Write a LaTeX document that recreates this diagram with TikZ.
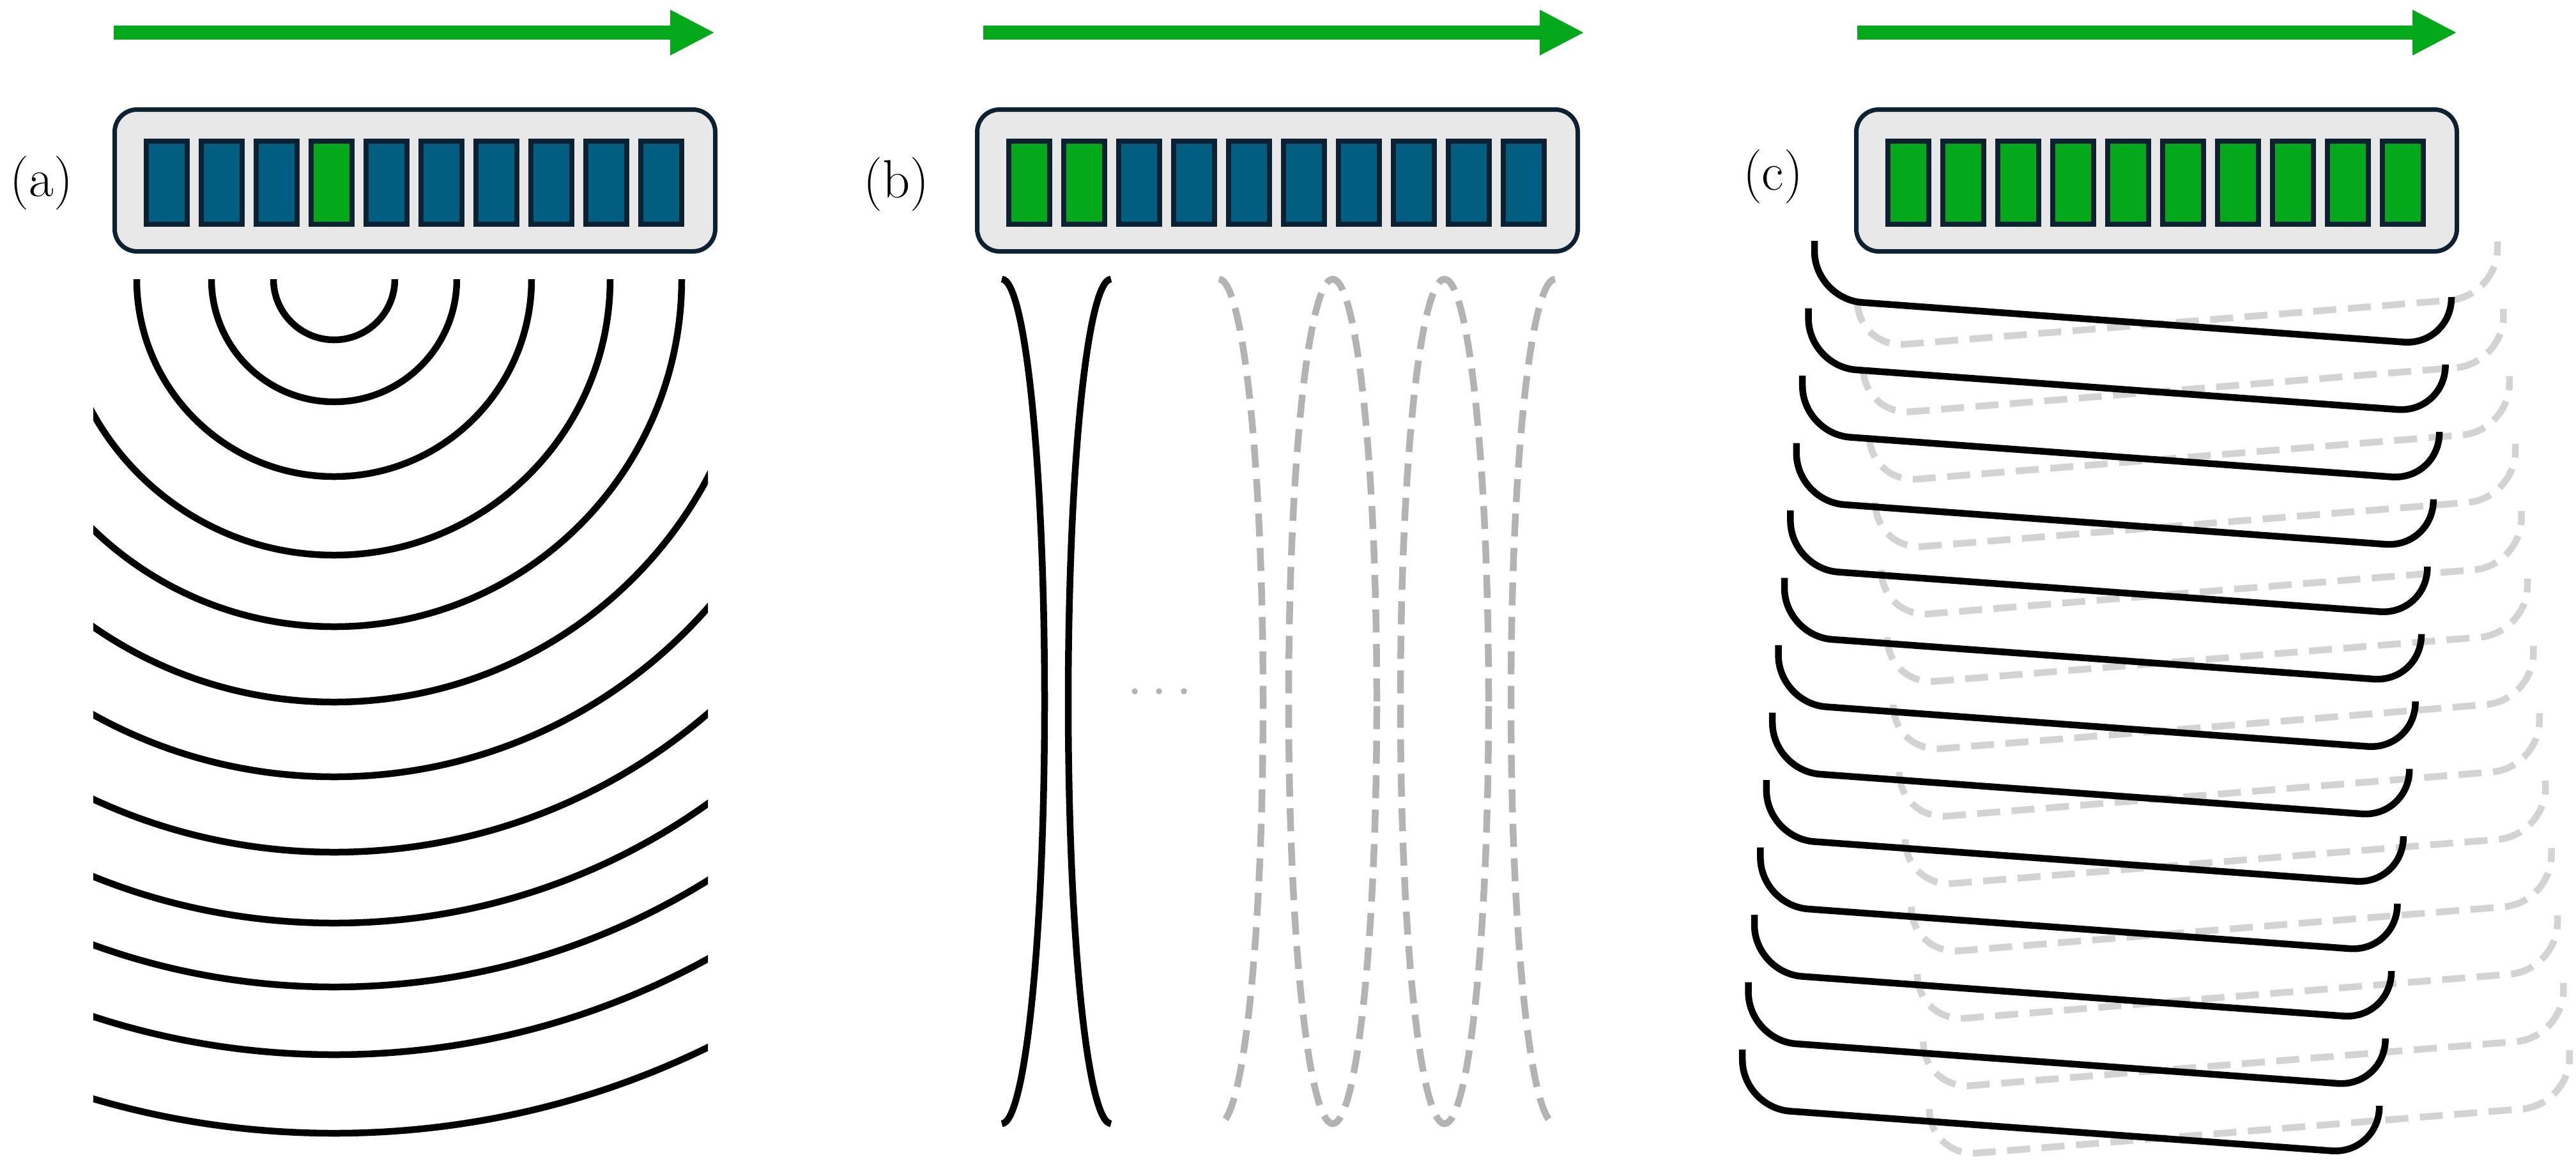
\documentclass[tikz,border=0pt]{standalone}
\usetikzlibrary{arrows.meta, positioning}
\definecolor{sweepgreen}{HTML}{03A81B}
\definecolor{cellblue}{HTML}{005F80}
\definecolor{frame}{HTML}{0C2232}
\definecolor{panel}{HTML}{E8E8E8}
\definecolor{ghost}{HTML}{B3B3B3}
\definecolor{paleghost}{HTML}{D3D3D3}

\tikzset{
    sweep/.style={draw=sweepgreen, line width=0.22cm, -{Triangle[length=0.7cm, width=0.66cm]}},
    array/.style={draw=frame, fill=panel, line width=0.07cm, rounded corners=0.35cm,
                  minimum width=9.4cm, minimum height=2.22cm, inner sep=0pt},
    cell/.style={draw=frame, line width=0.08cm, minimum width=0.64cm, minimum height=1.3cm,
                 inner sep=0pt, fill=cellblue},
    on/.style={fill=sweepgreen},
    lbl/.style={font=\fontsize{24}{28}\selectfont, inner sep=0pt},
    wave/.style={line width=0.105cm, black},
    dashwave/.style={line width=0.105cm, ghost, dash pattern=on 0.36cm off 0.18cm},
    palewave/.style={line width=0.105cm, paleghost, dash pattern=on 0.36cm off 0.18cm}
}

\begin{document}
\begin{tikzpicture}
    \useasboundingbox (0,0) rectangle (40.32,-18.29);

    % Draw the arrays
    \node[array, anchor=north west] (arra) at (1.76,-1.68) {};
    \node[array, anchor=north west] (arrb) at (15.26,-1.68) {};
    \node[array, anchor=north west] (arrc) at (29.02,-1.68) {};

    \node[lbl] (la) at (0.65,-2.86) {(a)};
    \node[lbl] (lb) at (14.03,-2.88) {(b)};
    \node[lbl] (lc) at (27.75,-2.76) {(c)};

    % Draw the cells
    \foreach \i in {0,...,9} {
        \pgfmathsetmacro{\dx}{0.49+0.86*\i}
        \ifnum\i=3
            \node[cell, on, anchor=north west] (a\i) at ([xshift=\dx cm, yshift=-0.49cm]arra.north west) {};
        \else
            \node[cell, anchor=north west] (a\i) at ([xshift=\dx cm, yshift=-0.49cm]arra.north west) {};
        \fi
        \ifnum\i<2
            \node[cell, on, anchor=north west] (b\i) at ([xshift=\dx cm, yshift=-0.49cm]arrb.north west) {};
        \else
            \node[cell, anchor=north west] (b\i) at ([xshift=\dx cm, yshift=-0.49cm]arrb.north west) {};
        \fi
        \node[cell, on, anchor=north west] (c\i) at ([xshift=\dx cm, yshift=-0.49cm]arrc.north west) {};
    }

    % Sweep arrows
    \coordinate (sa0) at (1.78,-0.51);  \coordinate (sa1) at (11.19,-0.51);
    \coordinate (sb0) at (15.39,-0.51); \coordinate (sb1) at (24.80,-0.51);
    \coordinate (sc0) at (29.07,-0.51); \coordinate (sc1) at (38.46,-0.51);
    \draw[sweep] (sa0) -- (sa1);
    \draw[sweep] (sb0) -- (sb1);
    \draw[sweep] (sc0) -- (sc1);

    % (a) spherical wavefronts
    \begin{scope}
        \clip (1.46,-4.37) rectangle (11.08,-18.29);
        \foreach \r in {0.95,1.92,3.09,4.32,5.44,6.62,7.79,8.97,10.08,11.08,12.14,13.37}
            \draw[wave] (5.23,-4.37) circle (\r);
    \end{scope}

    % (b) focused beams
    \draw[wave] (15.68,-4.37) arc (90:-90:0.67 and 6.61);
    \draw[wave] (17.39,-4.37) arc (90:270:0.67 and 6.61);
    \node[lbl, text=ghost] (dots) at (18.15,-10.85) {$\cdots$};
    \draw[dashwave] (19.08,-4.37) arc (90:-90:0.69 and 6.61);
    \draw[dashwave] (20.86,-10.98) ellipse (0.69 and 6.61);
    \draw[dashwave] (22.61,-10.98) ellipse (0.69 and 6.61);
    \draw[dashwave] (24.34,-4.37) arc (90:270:0.69 and 6.61);

    % (c) tilted plane waves
    \foreach \k in {0,...,12} {
        \draw[palewave, rounded corners=0.75cm] (29.07+0.094*\k,-4.70-1.055*\k)
            -- ++(0,-0.75) -- ++(10.02,0.81) -- ++(0,0.86);
    }
    \foreach \k in {0,...,12} {
        \draw[wave, rounded corners=0.75cm] (28.40-0.094*\k,-3.77-1.055*\k)
            -- ++(0,-0.91) -- ++(9.97,-0.73) -- ++(0,0.76);
    }
\end{tikzpicture}
\end{document}
